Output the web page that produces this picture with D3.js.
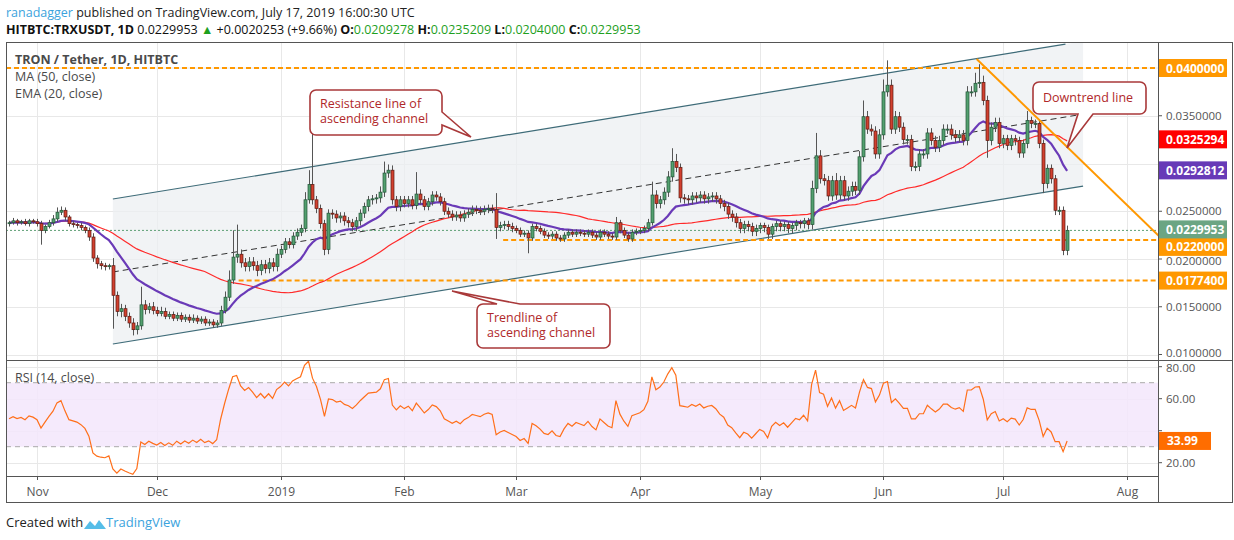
<!DOCTYPE html>
<html>
<head>
<meta charset="utf-8">
<script src="https://cdn.jsdelivr.net/npm/d3@7"></script>
<style>
  body { margin: 0; background: #fff; }
  svg text { font-family: "Open Sans", "Liberation Sans", sans-serif; }
</style>
</head>
<body>
<div id="chart"></div>
<script>
// daily closes, one list per month (first day 2018-10-25)
var closeOct = [0.0238,0.0240,0.0238,0.0239,0.0237,0.0240,0.0239];
var closeNov = [0.0237,0.0230,0.0234,0.0238,0.0242,0.0249,0.0251,0.0244,0.0237,0.0236,0.0235,0.0233,0.0230,0.0223,0.0201,0.0195,0.0193,0.0192,0.0193,0.0162,0.0145,0.0148,0.0140,0.0133,0.0126,0.0130,0.0152,0.0147,0.0150,0.0146];
var closeDec = [0.0143,0.0145,0.0140,0.0142,0.0138,0.0141,0.0137,0.0139,0.0136,0.0138,0.0135,0.0137,0.0133,0.0134,0.0131,0.0133,0.0146,0.0160,0.0178,0.0202,0.0205,0.0196,0.0192,0.0197,0.0193,0.0188,0.0194,0.0190,0.0196,0.0192,0.0205];
var closeJan = [0.0210,0.0218,0.0215,0.0224,0.0228,0.0232,0.0262,0.0278,0.0262,0.0253,0.0237,0.0210,0.0248,0.0247,0.0243,0.0245,0.0240,0.0238,0.0234,0.0240,0.0248,0.0255,0.0262,0.0263,0.0264,0.0270,0.0290,0.0293,0.0262,0.0255,0.0262];
var closeFeb = [0.0258,0.0262,0.0256,0.0268,0.0262,0.0255,0.0260,0.0267,0.0265,0.0260,0.0250,0.0247,0.0244,0.0246,0.0243,0.0247,0.0249,0.0252,0.0251,0.0250,0.0252,0.0253,0.0252,0.0233,0.0235,0.0236,0.0234,0.0232];
var closeMar = [0.0230,0.0226,0.0227,0.0222,0.0234,0.0232,0.0229,0.0225,0.0224,0.0226,0.0222,0.0221,0.0225,0.0228,0.0226,0.0228,0.0227,0.0226,0.0228,0.0225,0.0223,0.0228,0.0226,0.0224,0.0223,0.0238,0.0230,0.0225,0.0221,0.0228,0.0229];
var closeApr = [0.0230,0.0232,0.0238,0.0267,0.0258,0.0262,0.0270,0.0286,0.0302,0.0296,0.0264,0.0263,0.0262,0.0266,0.0264,0.0267,0.0263,0.0265,0.0266,0.0263,0.0258,0.0255,0.0247,0.0244,0.0238,0.0232,0.0236,0.0234,0.0229,0.0232];
var closeMay = [0.0235,0.0233,0.0226,0.0234,0.0237,0.0234,0.0236,0.0232,0.0235,0.0238,0.0237,0.0240,0.0236,0.0274,0.0308,0.0284,0.0282,0.0266,0.0282,0.0267,0.0282,0.0266,0.0271,0.0276,0.0272,0.0307,0.0349,0.0336,0.0334,0.0310,0.0330];
var closeJun = [0.0375,0.0382,0.0336,0.0349,0.0338,0.0325,0.0325,0.0297,0.0297,0.0310,0.0310,0.0332,0.0324,0.0317,0.0324,0.0336,0.0336,0.0330,0.0327,0.0330,0.0324,0.0375,0.0375,0.0384,0.0385,0.0366,0.0324,0.0338,0.0343,0.0321];
var closeJul = [0.0326,0.0319,0.0326,0.0324,0.0311,0.0321,0.0345,0.0342,0.0342,0.0321,0.0279,0.0295,0.0284,0.0251,0.0251,0.0209,0.0229953];

// wick lengths above / below the body, in units of 0.0001
var wickUp = [].concat(
  [2,3,2,2,3,2,2],
  [3,3,2,3,4,5,4,3,2,3,2,3,2,3,4,3,3,3,2,8,4,5,4,4,5,4,19,5,4,5],
  [4,5,4,3,3,3,3,3,3,4,3,3,3,3,3,3,5,6,10,28,31,5,5,5,5,5,5,5,5,5,6],
  [4,4,4,4,4,4,8,15,68,4,4,4,4,4,4,4,4,4,4,4,4,4,4,4,4,6,12,6,5,4,4],
  [4,4,4,23,5,4,4,4,4,4,4,4,4,4,4,4,4,4,4,4,4,4,4,17,4,4,4,4],
  [3,3,3,3,3,3,3,3,3,3,3,3,3,3,3,3,3,3,3,3,3,3,3,3,3,6,3,3,3,3,3],
  [3,3,4,14,5,4,5,6,14,8,4,4,4,4,4,4,4,4,4,4,4,4,4,4,4,4,4,4,4,4],
  [3,3,3,3,3,3,3,3,3,3,3,3,3,8,24,6,5,5,5,8,5,5,5,5,5,6,17,6,5,5,6],
  [13,26,6,6,5,5,5,5,5,5,5,5,5,5,5,5,5,5,5,5,5,6,6,11,19,7,5,5,5,5],
  [4,4,4,4,4,4,10,4,4,4,4,4,4,4,4,4,5]);
var wickDn = [].concat(
  [3,2,3,2,2,3,2],
  [3,15,3,2,3,3,3,4,3,3,3,3,3,4,4,5,4,4,3,35,5,6,5,5,6,5,4,5,4,4],
  [3,3,3,3,3,3,3,3,3,3,3,3,3,3,3,3,3,3,4,4,6,5,5,5,5,6,5,5,5,5,5],
  [4,4,4,4,4,4,4,4,5,5,5,6,5,5,5,5,5,5,5,5,5,5,5,5,5,5,5,5,5,5,5],
  [4,4,4,4,5,4,4,4,4,4,4,4,4,4,4,4,4,4,4,4,4,4,4,12,4,4,4,4],
  [3,3,3,16,3,3,3,3,3,3,3,3,3,3,3,3,3,3,3,3,3,3,3,3,3,3,3,3,3,3,3],
  [3,3,3,3,5,5,5,5,5,5,5,5,5,5,5,5,5,5,5,5,5,5,5,5,5,5,5,5,5,5],
  [5,5,5,5,5,5,5,5,5,5,5,5,5,5,5,5,5,5,5,5,5,5,5,5,5,5,5,5,5,5,5],
  [5,5,5,5,5,5,5,5,5,5,5,5,5,5,5,5,5,5,5,5,5,5,5,5,5,5,18,5,5,5],
  [5,5,5,5,5,5,5,5,5,5,10,5,5,5,5,5,5]);

var firstOpen = 0.0237;
// average daily gain / loss carried in from before the visible window (RSI seed)
var rsiSeedGain = 0.00030, rsiSeedLoss = 0.00034;
var priceTicks = [0.01, 0.015, 0.02, 0.025, 0.03, 0.035];
var priceTickLabels = ["0.0100000", "0.0150000", "0.0200000", "0.0250000", "", "0.0350000"];
var rsiTicks = [20, 40, 60, 80];
var monthTicks = ["2018-11-01","2018-12-01","2019-01-01","2019-02-01","2019-03-01","2019-04-01","2019-05-01","2019-06-01","2019-07-01","2019-08-01"];
var monthLabels = ["Nov","Dec","2019","Feb","Mar","Apr","May","Jun","Jul","Aug"];

// drawn lines: [date, price]
var channelTop = [["2018-11-20", 0.02628], ["2019-07-16T14:00Z", 0.0425]];
var channelBottom = [["2018-11-20", 0.0111], ["2019-07-21", 0.02764]];
var channelMid = [["2018-11-20", 0.01864], ["2019-07-20", 0.0351]];
var downtrend = [["2019-06-24T08:00Z", 0.04094], ["2019-08-09T06:00Z", 0.0223]];
var levels = [{p: 0.04, from: null, label: "0.0400000", shift: 0},
              {p: 0.022, from: "2019-02-25T18:00Z", label: "0.0220000", shift: 7},
              {p: 0.01774, from: "2018-12-21T12:00Z", label: "0.0177400", shift: 0}];

var W = 1234, H = 540;
var L = 6, R = 1158, T = 43, B1 = 360, B2 = 476, B3 = 503;

var closes = [].concat(closeOct, closeNov, closeDec, closeJan, closeFeb, closeMar, closeApr, closeMay, closeJun, closeJul);
var start = new Date(Date.UTC(2018, 9, 25));
var bars = closes.map(function(c, i) {
  var o = i === 0 ? firstOpen : closes[i - 1];
  return {
    date: d3.utcDay.offset(start, i), o: o, c: c,
    h: Math.max(o, c) + wickUp[i] / 10000,
    l: Math.min(o, c) - wickDn[i] / 10000
  };
});

var x = d3.scaleUtc().domain([new Date("2018-11-01"), new Date("2019-08-01")]).range([37, 1127]);
var y = d3.scaleLinear().domain([0.01, 0.04]).range([354.5, 68]);
var yr = d3.scaleLinear().domain([20, 80]).range([462.7, 366.7]);
var dt = function(s) { return new Date(s.length === 10 ? s + "T00:00Z" : s); };

// moving averages and RSI from closes
var ma50 = closes.map(function(c, i) { return d3.mean(closes.slice(Math.max(0, i - 49), i + 1)); });
var ema20 = [], k = 2 / 21;
closes.forEach(function(c, i) { ema20.push(i === 0 ? c : c * k + ema20[i - 1] * (1 - k)); });
var rsi = [], ag = rsiSeedGain, al = rsiSeedLoss;
closes.forEach(function(c, i) {
  var d = c - (i === 0 ? firstOpen : closes[i - 1]);
  ag = (ag * 13 + Math.max(d, 0)) / 14; al = (al * 13 + Math.max(-d, 0)) / 14;
  rsi.push(100 - 100 / (1 + ag / al));
});

var svg = d3.select("#chart").append("svg").attr("width", W).attr("height", H);

// header
var h1 = svg.append("text").attr("x", 6).attr("y", 17).attr("font-size", 12.5).attr("fill", "#222");
h1.append("tspan").attr("fill", "#3ba3dd").text("ranadagger");
h1.append("tspan").text(" published on TradingView.com, July 17, 2019 16:00:30 UTC");
var h2 = svg.append("text").attr("x", 6).attr("y", 34).attr("font-size", 12.5).attr("fill", "#111");
h2.append("tspan").attr("font-weight", "bold").text("HITBTC:TRXUSDT, 1D");
h2.append("tspan").text("  0.0229953 ");
h2.append("tspan").attr("fill", "#1ea01e").text("▲");
h2.append("tspan").text(" +0.0020253 (+9.66%) ");
[["O:", "0.0209278"], ["H:", "0.0235209"], ["L:", "0.0204000"], ["C:", "0.0229953"]].forEach(function(p) {
  h2.append("tspan").attr("font-weight", "bold").text(p[0]);
  h2.append("tspan").attr("fill", "#1ea01e").text(p[1] + " ");
});

// grid
var grid = svg.append("g").attr("stroke", "#e8e8e8").attr("stroke-width", 1);
monthTicks.forEach(function(m) {
  var gx = Math.round(x(dt(m))) + 0.5;
  grid.append("line").attr("x1", gx).attr("x2", gx).attr("y1", T).attr("y2", B2);
});
priceTicks.forEach(function(p) {
  grid.append("line").attr("x1", L).attr("x2", R).attr("y1", Math.round(y(p)) + 0.5).attr("y2", Math.round(y(p)) + 0.5);
});
grid.append("line").attr("x1", L).attr("x2", R).attr("y1", y(0.04)).attr("y2", y(0.04));
rsiTicks.forEach(function(v) {
  grid.append("line").attr("x1", L).attr("x2", R).attr("y1", Math.round(yr(v)) + 0.5).attr("y2", Math.round(yr(v)) + 0.5);
});

svg.append("defs").append("clipPath").attr("id", "mainclip")
  .append("rect").attr("x", L).attr("y", T).attr("width", R - L).attr("height", B1 - T);
var main = svg.append("g").attr("clip-path", "url(#mainclip)");

// channel shading
var xt = function(p) { return x(dt(p[0])); };
var slope = (channelTop[1][1] - channelTop[0][1]) / (xt(channelTop[1]) - xt(channelTop[0]));
var topAtEnd = channelTop[1][1] + slope * (xt(channelBottom[1]) - xt(channelTop[1]));
main.append("polygon")
  .attr("points", [[xt(channelTop[0]), y(channelTop[0][1])], [xt(channelBottom[1]), y(topAtEnd)],
                   [xt(channelBottom[1]), y(channelBottom[1][1])], [xt(channelBottom[0]), y(channelBottom[0][1])]].join(" "))
  .attr("fill", "#eceff2").attr("opacity", 0.75);

var seg = function(pts, color, w, dash) {
  main.append("line").attr("x1", xt(pts[0])).attr("y1", y(pts[0][1])).attr("x2", xt(pts[1])).attr("y2", y(pts[1][1]))
    .attr("stroke", color).attr("stroke-width", w).attr("stroke-dasharray", dash || null);
};
seg(channelTop, "#3e6b78", 1.2);
seg(channelBottom, "#3e6b78", 1.2);
seg(channelMid, "#333", 1, "6,4");

// levels
levels.forEach(function(lv) {
  main.append("line").attr("x1", lv.from ? x(dt(lv.from)) : L).attr("x2", R)
    .attr("y1", y(lv.p)).attr("y2", y(lv.p))
    .attr("stroke", "#ff9800").attr("stroke-width", 2).attr("stroke-dasharray", "5,3");
});
// last price line
main.append("line").attr("x1", L).attr("x2", R).attr("y1", y(0.0229953)).attr("y2", y(0.0229953))
  .attr("stroke", "#5c9e74").attr("stroke-width", 1).attr("stroke-dasharray", "2,2");

// moving averages
var line = d3.line().x(function(d, i) { return x(bars[i].date); }).y(function(d) { return y(d); });
main.append("path").datum(ma50).attr("d", line).attr("fill", "none").attr("stroke", "#ff2a2a").attr("stroke-width", 1.2);
main.append("path").datum(ema20).attr("d", line).attr("fill", "none").attr("stroke", "#6a3ab7").attr("stroke-width", 2.2);

// candles
var cg = main.append("g");
bars.forEach(function(b) {
  var cx = Math.round(x(b.date)) + 0.5, up = b.c >= b.o;
  cg.append("line").attr("x1", cx).attr("x2", cx).attr("y1", y(b.h)).attr("y2", y(b.l)).attr("stroke", "#555").attr("stroke-width", 1);
  var top = y(Math.max(b.o, b.c)), bot = y(Math.min(b.o, b.c));
  cg.append("rect").attr("x", cx - 1.5).attr("y", top).attr("width", 3).attr("height", Math.max(bot - top, 1))
    .attr("fill", up ? "#53a06f" : "#d2402f").attr("stroke", up ? "#225437" : "#5b1a13").attr("stroke-width", 0.7);
});

seg(downtrend, "#ff9800", 2);

// callouts
function callout(bx, by, bw, bh, tip, base, lines) {
  var r = 6, g = svg.append("g");
  var p = d3.path();
  p.moveTo(bx + r, by);
  if (base.side === "top") { p.lineTo(base.a, by); p.lineTo(tip[0], tip[1]); p.lineTo(base.b, by); }
  p.lineTo(bx + bw - r, by); p.arcTo(bx + bw, by, bx + bw, by + r, r);
  if (base.side === "right") { p.lineTo(bx + bw, base.a); p.lineTo(tip[0], tip[1]); p.lineTo(bx + bw, base.b); }
  p.lineTo(bx + bw, by + bh - r); p.arcTo(bx + bw, by + bh, bx + bw - r, by + bh, r);
  if (base.side === "bottom") { p.lineTo(base.b, by + bh); p.lineTo(tip[0], tip[1]); p.lineTo(base.a, by + bh); }
  p.lineTo(bx + r, by + bh); p.arcTo(bx, by + bh, bx, by + bh - r, r);
  p.lineTo(bx, by + r); p.arcTo(bx, by, bx + r, by, r);
  p.closePath();
  g.append("path").attr("d", p.toString()).attr("fill", "#fff").attr("stroke", "#a9393a").attr("stroke-width", 1.6);
  lines.forEach(function(t, i) {
    g.append("text").attr("x", bx + 10).attr("y", by + (lines.length === 1 ? 20 : 18 + i * 15))
      .attr("font-size", 12.5).attr("fill", "#b0282a").text(t);
  });
}
callout(310, 90, 132, 45, [471, 137], {side: "right", a: 112, b: 125}, ["Resistance line of", "ascending channel"]);
callout(477, 304, 133, 44, [452, 291], {side: "top", a: 497, b: 520}, ["Trendline of", "ascending channel"]);
callout(1033, 82, 113, 32, [1067, 148], {side: "bottom", a: 1078, b: 1093}, ["Downtrend line"]);

// legend
var leg = svg.append("g").attr("font-size", 12.5).attr("fill", "#4a4a4a");
leg.append("text").attr("x", 15).attr("y", 64).attr("font-weight", "bold").text("TRON / Tether, 1D, HITBTC");
leg.append("text").attr("x", 15).attr("y", 81).text("MA (50, close)");
leg.append("text").attr("x", 15).attr("y", 98).text("EMA (20, close)");

// RSI pane
svg.append("rect").attr("x", L).attr("y", yr(70)).attr("width", R - L).attr("height", yr(30) - yr(70)).attr("fill", "#f3e6fb").attr("opacity", 0.85);
[70, 30].forEach(function(v) {
  svg.append("line").attr("x1", L).attr("x2", R).attr("y1", yr(v)).attr("y2", yr(v))
    .attr("stroke", "#aaa").attr("stroke-dasharray", "5,4");
});
svg.append("path").datum(rsi).attr("fill", "none").attr("stroke", "#ff6f1a").attr("stroke-width", 1.2)
  .attr("d", d3.line().x(function(d, i) { return x(bars[i].date); }).y(function(d) { return yr(d); }));
svg.append("text").attr("x", 15).attr("y", 382).attr("font-size", 12.5).attr("fill", "#4a4a4a").text("RSI (14, close)");

// frames
var fr = svg.append("g").attr("fill", "none").attr("stroke", "#555").attr("stroke-width", 1);
fr.append("rect").attr("x", L + 0.5).attr("y", T - 0.5).attr("width", W - 2 - L).attr("height", B3 - T);
fr.append("line").attr("x1", L).attr("x2", W - 1).attr("y1", B1 + 0.5).attr("y2", B1 + 0.5);
fr.append("line").attr("x1", L).attr("x2", R).attr("y1", B2 + 0.5).attr("y2", B2 + 0.5);
fr.append("line").attr("x1", R + 0.5).attr("x2", R + 0.5).attr("y1", T).attr("y2", B3);

// price axis
var ax = svg.append("g").attr("font-size", 11.5).attr("fill", "#555");
priceTicks.forEach(function(p, i) {
  ax.append("line").attr("x1", R).attr("x2", R + 4).attr("y1", y(p)).attr("y2", y(p)).attr("stroke", "#555");
  if (priceTickLabels[i]) ax.append("text").attr("x", R + 8).attr("y", y(p) + (p === 0.02 ? 6 : p === 0.01 ? 2 : 4)).text(priceTickLabels[i]);
});
rsiTicks.forEach(function(v) {
  ax.append("line").attr("x1", R).attr("x2", R + 4).attr("y1", yr(v)).attr("y2", yr(v)).attr("stroke", "#555");
  if (v !== 40) ax.append("text").attr("x", R + 8).attr("y", yr(v) + (v === 80 ? 5 : 4)).text(v.toFixed(2));
});
function tag(v, scale, txt, color, shift) {
  var g = svg.append("g"), cy = scale(v) + (shift || 0);
  g.append("rect").attr("x", R + 1).attr("y", cy - 9).attr("width", 68).attr("height", 18).attr("fill", color);
  g.append("text").attr("x", R + 8).attr("y", cy + 4.5).attr("font-size", 12).attr("font-weight", "bold").attr("fill", "#fff").text(txt);
}
levels.forEach(function(lv) { tag(lv.p, y, lv.label, "#ff9800", lv.shift); });
tag(0.0325294, y, "0.0325294", "#ff0000");
tag(0.0292812, y, "0.0292812", "#673ab7");
tag(0.0229953, y, "0.0229953", "#6ba583", -1);
var rg = svg.append("g"), ry = yr(rsi[rsi.length - 1]);
rg.append("rect").attr("x", R + 1).attr("y", ry - 9).attr("width", 52).attr("height", 18).attr("fill", "#ff6d00");
rg.append("text").attr("x", R + 9).attr("y", ry + 4.5).attr("font-size", 12).attr("font-weight", "bold").attr("fill", "#fff").text("33.99");

// time axis
monthTicks.forEach(function(m, i) {
  var tx = Math.round(x(dt(m))) + 0.5;
  svg.append("line").attr("x1", tx).attr("x2", tx).attr("y1", B2).attr("y2", B2 + 4).attr("stroke", "#555");
  svg.append("text").attr("x", tx).attr("y", 496).attr("text-anchor", "middle").attr("font-size", 12)
    .attr("fill", "#555").text(monthLabels[i]);
});

// footer
svg.append("text").attr("x", 6).attr("y", 527).attr("font-size", 13).attr("fill", "#222").text("Created with");
svg.append("path").attr("d", "M84,529 l6,-8 l5,5 l4,-6 l7,9 z").attr("fill", "#55bde8");
svg.append("text").attr("x", 106).attr("y", 527).attr("font-size", 13).attr("fill", "#3ba3dd").text("TradingView");
</script>
</body>
</html>
